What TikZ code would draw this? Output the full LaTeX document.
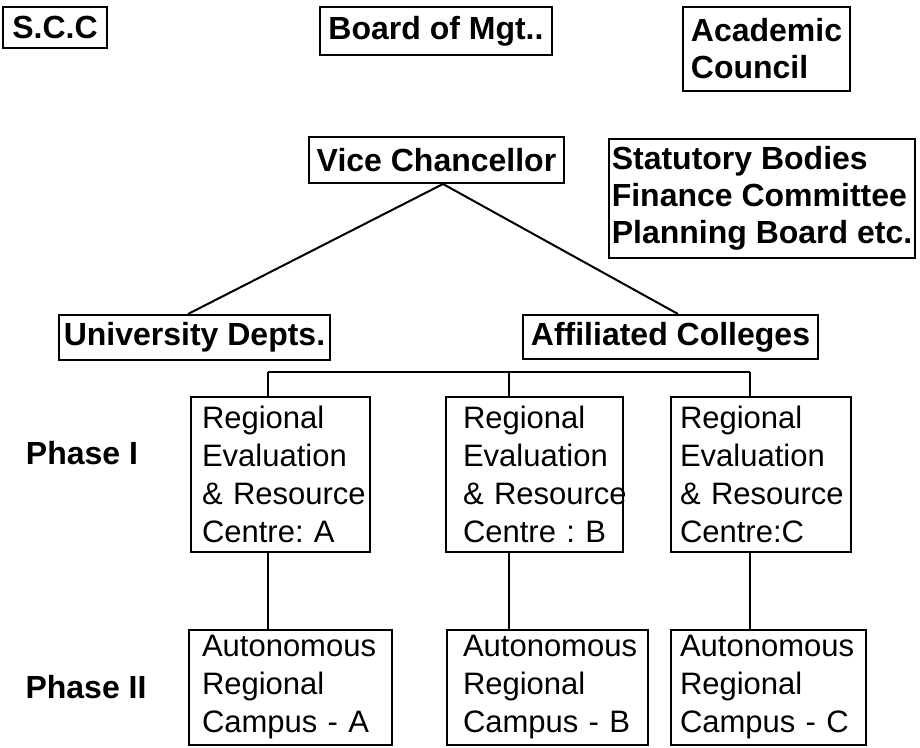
\documentclass[tikz,border=0pt]{standalone}
\usepackage{fontspec}
\setmainfont{Liberation Sans}
\hyphenpenalty=10000
\exhyphenpenalty=10000

\tikzset{
  office/.style={draw, line width=2pt, inner sep=2pt,
    font=\fontsize{32}{37}\selectfont\bfseries},
  centre/.style={draw, line width=2pt, inner ysep=2pt, align=left,
    font=\fontsize{31}{38}\selectfont},
  phase/.style={font=\fontsize{32}{37}\selectfont\bfseries},
  link/.style={line width=2pt}
}

\begin{document}
\begin{tikzpicture}[x=1pt, y=-1pt]
  \useasboundingbox (0,0) rectangle (920,747);
  % Define nodes
  \node[office, minimum width=104pt, minimum height=41pt] (scc) at (55,27.5) {S.C.C};
  \node[office, minimum width=232pt, minimum height=48pt] (bom) at (436,31) {Board of Mgt..};
  \node[office, minimum width=167pt, minimum height=84pt, align=left] (ac) at (766.5,49) {Academic\\Council};
  \node[office, minimum width=255pt, minimum height=46pt] (vc) at (436.5,160) {Vice Chancellor};
  \node[office, minimum width=306pt, minimum height=119pt, align=left] (stat) at (762,198.5)
    {Statutory Bodies\\Finance Committee\\Planning Board etc.};
  \node[office, minimum width=271pt, minimum height=45pt] (univ) at (194.5,337.5) {University Depts.};
  \node[office, minimum width=295pt, minimum height=44pt] (affil) at (670.5,337) {Affiliated Colleges};
  % Define centres (Phase I)
  \node[centre, minimum height=155pt, inner xsep=11pt, text width=157pt] (reA) at (280.5,474.5)
    {Regional\\Evaluation\\\&~Resource\\Centre:~A};
  \node[centre, minimum height=155pt, inner xsep=17pt, text width=143pt] (reB) at (534.5,474.5)
    {Regional\\Evaluation\\\&~Resource\\Centre~:~B};
  \node[centre, minimum height=155pt, inner xsep=9pt, text width=162pt] (reC) at (761,474.5)
    {Regional\\Evaluation\\\&~Resource\\Centre:C};
  % Define campuses (Phase II)
  \node[centre, minimum height=115pt, inner xsep=13pt, text width=177pt] (caA) at (290.5,687.5)
    {Autonomous\\Regional\\Campus~-~A};
  \node[centre, minimum height=115pt, inner xsep=16pt, text width=169pt] (caB) at (547.5,687.5)
    {Autonomous\\Regional\\Campus~-~B};
  \node[centre, minimum height=115pt, inner xsep=9pt, text width=177pt] (caC) at (768.5,687.5)
    {Autonomous\\Regional\\Campus~-~C};
  \node[phase] (ph1) at (82,453) {Phase I};
  \node[phase] (ph2) at (86,687) {Phase II};
  % Define edges
  \coordinate (busA) at (268,372);
  \coordinate (busB) at (509,372);
  \coordinate (busC) at (750,372);
  \draw[link] ([xshift=6.5pt]vc.south) -- ([xshift=-6.5pt]univ.north);
  \draw[link] ([xshift=6.5pt]vc.south) -- ([xshift=7.5pt]affil.north);
  \draw[link] (busA) -- (busC);
  \draw[link] (busA) -- (busA |- reA.north);
  \draw[link] (busB) -- (busB |- reB.north);
  \draw[link] (busC) -- (busC |- reC.north);
  \draw[link] (busA |- reA.south) -- (busA |- caA.north);
  \draw[link] (busB |- reB.south) -- (busB |- caB.north);
  \draw[link] (busC |- reC.south) -- (busC |- caC.north);
\end{tikzpicture}
\end{document}
